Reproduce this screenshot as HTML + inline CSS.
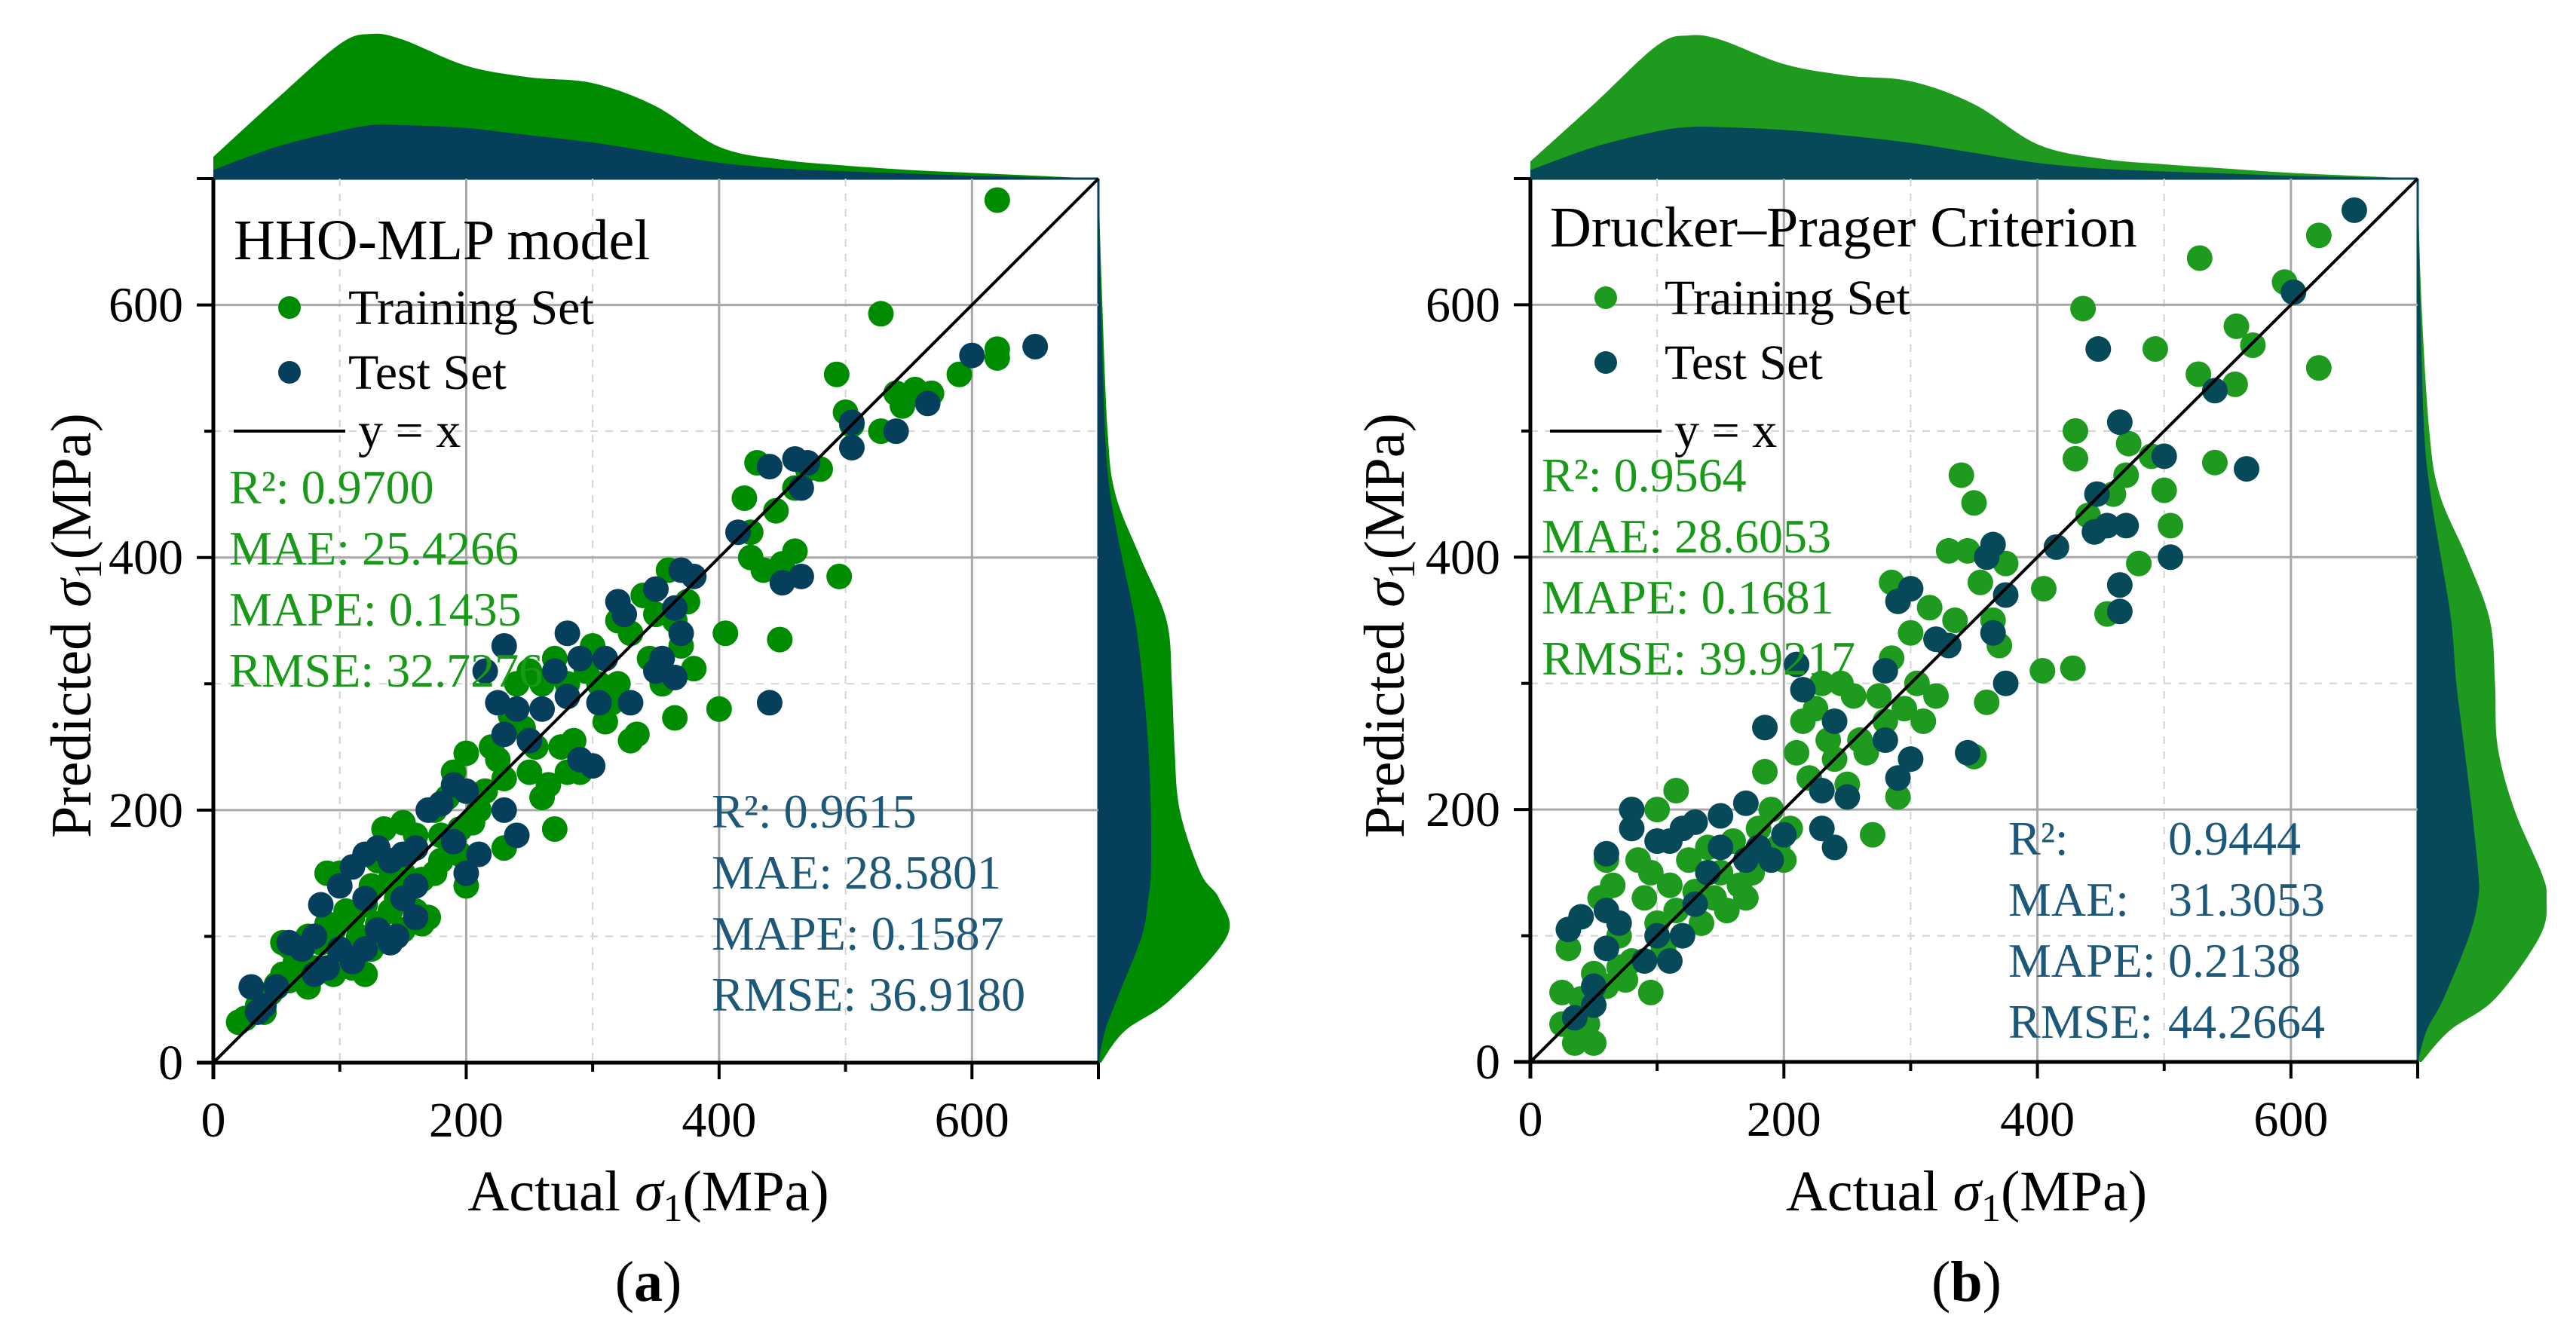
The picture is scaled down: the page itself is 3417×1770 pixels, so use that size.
<!DOCTYPE html>
<html><head><meta charset="utf-8"><style>
html,body{margin:0;padding:0;background:#fff;}
svg{display:block;font-family:"Liberation Serif",serif;}
svg text{font-family:"Liberation Serif",serif;}
</style></head><body>
<svg id="fig" width="3417" height="1770" viewBox="0 0 3417 1770" xmlns="http://www.w3.org/2000/svg" font-family="Liberation Serif, serif"></svg>
<script>
// ---------- DATA ----------
const tickValues = [0, 200, 400, 600];
const minorTickValues = [100, 300, 500];
const margGridX = [0, 50, 100, 125, 150, 200, 250, 300, 350, 400, 450, 500, 550, 600, 650, 700];
const leftTopTotal = [0.15, 0.55, 0.93, 1.0, 0.96, 0.78, 0.7, 0.66, 0.5, 0.22, 0.13, 0.09, 0.06, 0.04, 0.02, 0];
const leftTopTest  = [0.06, 0.22, 0.33, 0.37, 0.37, 0.35, 0.3, 0.25, 0.18, 0.11, 0.07, 0.05, 0.035, 0.02, 0.01, 0];
const rightTopTotal = [0.12, 0.52, 0.93, 1.0, 0.97, 0.8, 0.72, 0.68, 0.52, 0.24, 0.14, 0.1, 0.07, 0.04, 0.02, 0];
const rightTopTest  = [0.06, 0.22, 0.33, 0.36, 0.36, 0.34, 0.3, 0.25, 0.18, 0.11, 0.07, 0.05, 0.035, 0.02, 0.01, 0];
const margGridY = [0, 25, 50, 100, 130, 150, 200, 250, 300, 350, 400, 450, 500, 600, 700];
const leftSideTotal = [0.02, 0.2, 0.55, 0.98, 0.92, 0.78, 0.62, 0.58, 0.56, 0.52, 0.32, 0.13, 0.07, 0.03, 0];
const leftSideTest  = [0.0, 0.05, 0.14, 0.33, 0.38, 0.4, 0.4, 0.38, 0.34, 0.28, 0.18, 0.09, 0.05, 0.02, 0];
const rightSideTotal = [0.03, 0.25, 0.6, 0.95, 1.0, 0.96, 0.75, 0.62, 0.6, 0.56, 0.38, 0.17, 0.09, 0.03, 0];
const rightSideTest  = [0.0, 0.07, 0.2, 0.4, 0.47, 0.47, 0.42, 0.36, 0.3, 0.26, 0.18, 0.1, 0.05, 0.02, 0];

const leftTrain = [[20,32],[25,35],[35,45],[40,50],[45,55],[50,62],[55,70],[55,95],[60,65],[65,80],[70,90],[75,60],[75,100],[80,75],[85,95],[90,150],[90,110],[95,105],[95,70],[100,85],[100,150],[105,120],[110,115],[110,75],[115,100],[120,125],[125,140],[125,90],[130,160],[130,110],[135,185],[140,145],[140,120],[145,130],[150,190],[150,150],[150,105],[155,140],[160,120],[165,145],[165,110],[170,115],[175,200],[175,150],[180,180],[180,160],[185,210],[190,230],[195,185],[195,165],[200,245],[205,190],[210,200],[215,215],[220,250],[225,240],[230,225],[235,275],[240,300],[245,265],[250,310],[250,230],[255,250],[260,300],[265,220],[270,185],[270,320],[275,250],[280,300],[280,230],[285,255],[290,230],[295,310],[300,330],[305,300],[310,270],[315,285],[320,300],[320,350],[330,340],[330,255],[335,260],[340,370],[345,320],[350,355],[355,300],[360,390],[365,350],[370,330],[375,365],[380,312],[365,273],[400,280],[405,340],[420,447],[425,420],[425,400],[430,475],[435,390],[445,437],[448,335],[450,395],[460,405],[460,455],[470,470],[480,470],[493,545],[495,385],[500,515],[505,505],[528,500],[528,593],[540,530],[545,520],[555,533],[568,530],[590,545],[620,565],[620,558],[620,683],[60,92],[40,40],[120,70],[160,180],[200,140],[230,170],[260,210]];
const leftTest = [[650,567],[600,560],[565,522],[540,500],[505,487],[505,507],[470,475],[460,478],[440,472],[465,455],[415,420],[450,380],[465,385],[440,285],[370,390],[380,385],[365,360],[370,340],[350,375],[320,365],[325,355],[330,285],[310,320],[290,320],[280,340],[270,310],[230,330],[215,310],[225,285],[240,280],[230,260],[250,255],[260,280],[280,290],[290,240],[300,235],[305,285],[350,310],[365,305],[355,320],[190,220],[200,215],[170,200],[180,205],[190,175],[200,150],[210,165],[240,180],[230,200],[150,165],[120,165],[130,170],[140,160],[160,170],[110,155],[100,140],[85,125],[120,130],[130,105],[145,100],[160,115],[150,130],[100,90],[80,100],[70,90],[60,95],[90,75],[110,80],[80,70],[50,60],[30,60],[40,45],[35,40],[140,95],[120,90],[160,140]];
const rightTrain = [[25,30],[25,55],[30,90],[35,15],[40,50],[45,30],[50,15],[50,70],[55,130],[60,60],[60,160],[65,140],[70,100],[70,75],[75,65],[80,80],[85,160],[90,130],[95,55],[95,150],[100,200],[100,110],[105,90],[110,140],[115,215],[115,120],[120,100],[125,160],[130,135],[135,110],[140,170],[145,130],[150,150],[155,120],[160,175],[165,140],[170,130],[175,150],[180,185],[185,230],[190,200],[195,170],[200,160],[205,185],[210,245],[215,270],[220,225],[225,280],[230,300],[235,255],[240,240],[245,300],[250,220],[255,290],[260,255],[265,245],[270,180],[275,290],[280,270],[285,320],[290,210],[295,280],[300,340],[305,300],[310,270],[315,360],[320,290],[330,405],[335,350],[340,465],[345,405],[350,443],[350,242],[355,380],[360,285],[365,350],[370,330],[375,395],[285,380],[405,375],[404,310],[428,312],[430,478],[430,500],[436,597],[440,433],[455,355],[460,450],[470,465],[472,490],[480,395],[490,480],[493,565],[500,453],[505,425],[527,545],[528,637],[540,475],[556,537],[557,583],[570,568],[595,618],[622,655],[622,550]];
const rightTest = [[650,675],[602,610],[448,565],[465,507],[540,532],[565,470],[500,480],[447,450],[445,420],[455,425],[470,425],[505,400],[465,378],[465,357],[415,408],[365,410],[360,400],[375,370],[365,340],[300,375],[290,365],[320,335],[330,330],[345,245],[375,300],[280,310],[210,315],[215,295],[240,270],[280,255],[290,225],[300,240],[185,265],[230,215],[240,170],[250,210],[230,185],[80,200],[80,185],[60,165],[100,175],[120,185],[110,175],[130,190],[150,195],[170,205],[150,170],[170,160],[140,150],[130,125],[120,100],[100,100],[110,80],[90,80],[60,120],[60,90],[70,110],[30,105],[40,115],[50,60],[35,35],[50,45],[200,180],[190,160],[180,170]];

const leftTrainStats = ["R²: 0.9700","MAE: 25.4266","MAPE: 0.1435","RMSE: 32.7276"];
const leftTestStats = ["R²: 0.9615","MAE: 28.5801","MAPE: 0.1587","RMSE: 36.9180"];
const rightTrainStats = ["R²: 0.9564","MAE: 28.6053","MAPE: 0.1681","RMSE: 39.9217"];
const rightTestLabels = ["R²:","MAE:","MAPE:","RMSE:"];
const rightTestValues = ["0.9444","31.3053","0.2138","44.2664"];

// ---------- DRAWING ----------
const NS = "http://www.w3.org/2000/svg";
const svg = document.getElementById("fig");
const FONT = "Liberation Serif, serif";
function el(tag, attrs, parent) {
  const e = document.createElementNS(NS, tag);
  for (const k in attrs) e.setAttribute(k, attrs[k]);
  if (tag === "text") e.setAttribute("font-family", FONT);
  (parent || svg).appendChild(e);
  return e;
}
function smoothPath(pts) {
  let d = "M" + pts[0][0] + "," + pts[0][1];
  for (let i = 0; i < pts.length - 1; i++) {
    const p0 = pts[i - 1] || pts[i], p1 = pts[i], p2 = pts[i + 1], p3 = pts[i + 2] || p2;
    const c1 = [p1[0] + (p2[0] - p0[0]) / 6, p1[1] + (p2[1] - p0[1]) / 6];
    const c2 = [p2[0] - (p3[0] - p1[0]) / 6, p2[1] - (p3[1] - p1[1]) / 6];
    d += " C" + c1[0] + "," + c1[1] + " " + c2[0] + "," + c2[1] + " " + p2[0] + "," + p2[1];
  }
  return d;
}

function panel(cfg) {
  const g = el("g", {});
  
  
  const X = v => cfg.x0 + (v / 700) * cfg.w;
  const Y = v => cfg.y0 - (v / 700) * cfg.h;
  const top = cfg.y0 - cfg.h, right = cfg.x0 + cfg.w;

  const topTot = margGridX.map((v, i) => [X(v), top - cfg.topH * cfg.topTotal[i]]);
  const topTst = margGridX.map((v, i) => [X(v), top - cfg.topH * cfg.topTest[i]]);
  const mt = el("path", {d: smoothPath(topTot) + " L" + right + "," + top + " L" + cfg.x0 + "," + top + " Z", fill: cfg.green}, g);
  
  
  const mt2 = el("path", {d: smoothPath(topTst) + " L" + right + "," + top + " L" + cfg.x0 + "," + top + " Z", fill: cfg.dark}, g);
  
  
  const sTot = margGridY.map((v, i) => [right + cfg.sideW * cfg.sideTotal[i], Y(v)]);
  const sTst = margGridY.map((v, i) => [right + cfg.sideW * cfg.sideTest[i], Y(v)]);
  const ms = el("path", {d: smoothPath(sTot) + " L" + right + "," + top + " L" + right + "," + cfg.y0 + " Z", fill: cfg.green}, g);
  
  
  const ms2 = el("path", {d: smoothPath(sTst) + " L" + right + "," + top + " L" + right + "," + cfg.y0 + " Z", fill: cfg.dark}, g);
  
  
  el("line", {x1: cfg.x0, y1: top, x2: right, y2: top, stroke: cfg.dark, "stroke-width": 3}, g);
  el("line", {x1: right, y1: top, x2: right, y2: cfg.y0, stroke: cfg.dark, "stroke-width": 3}, g);

  minorTickValues.forEach(v => {
    el("line", {x1: X(v), y1: top, x2: X(v), y2: cfg.y0, stroke: "#d4d4d4", "stroke-width": 2, "stroke-dasharray": "10,10"}, g);
    el("line", {x1: cfg.x0, y1: Y(v), x2: right, y2: Y(v), stroke: "#d4d4d4", "stroke-width": 2, "stroke-dasharray": "10,10"}, g);
  });
  tickValues.slice(1).forEach(v => {
    el("line", {x1: X(v), y1: top, x2: X(v), y2: cfg.y0, stroke: "#a8a8a8", "stroke-width": 3}, g);
    el("line", {x1: cfg.x0, y1: Y(v), x2: right, y2: Y(v), stroke: "#a8a8a8", "stroke-width": 3}, g);
  });

  cfg.train.forEach(p => {
    const c = el("circle", {cx: X(p[0]), cy: Y(p[1]), r: 17, fill: cfg.green}, g);
    
    
  });
  cfg.test.forEach(p => {
    const c = el("circle", {cx: X(p[0]), cy: Y(p[1]), r: 17, fill: cfg.dark}, g);
    
    
  });
  const idl = el("line", {x1: X(0), y1: Y(0), x2: X(700), y2: Y(700), stroke: "#000", "stroke-width": 4}, g);
  
  

  el("line", {x1: cfg.x0, y1: top, x2: cfg.x0, y2: cfg.y0 + 22, stroke: "#000", "stroke-width": 5}, g);
  el("line", {x1: cfg.x0 - 22, y1: cfg.y0, x2: right, y2: cfg.y0, stroke: "#000", "stroke-width": 5}, g);
  tickValues.concat([700]).forEach(v => {
    el("line", {x1: X(v), y1: cfg.y0, x2: X(v), y2: cfg.y0 + 22, stroke: "#000", "stroke-width": 4}, g);
    el("line", {x1: cfg.x0 - 22, y1: Y(v), x2: cfg.x0, y2: Y(v), stroke: "#000", "stroke-width": 4}, g);
  });
  minorTickValues.forEach(v => {
    el("line", {x1: X(v), y1: cfg.y0, x2: X(v), y2: cfg.y0 + 12, stroke: "#000", "stroke-width": 4}, g);
    el("line", {x1: cfg.x0 - 12, y1: Y(v), x2: cfg.x0, y2: Y(v), stroke: "#000", "stroke-width": 4}, g);
  });
  tickValues.forEach(v => {
    const t = el("text", {x: X(v), y: cfg.y0 + 98, "font-size": 66, "text-anchor": "middle"}, g);
    t.textContent = v;
    
    
    const t2 = el("text", {x: cfg.x0 - 40, y: Y(v) + 22, "font-size": 66, "text-anchor": "end"}, g);
    t2.textContent = v;
    
    
  });
  const xt = el("text", {x: cfg.x0 + cfg.w / 2 - 10, y: 1606, "font-size": 76, "text-anchor": "middle"}, g);
  xt.innerHTML = 'Actual <tspan font-style="italic">σ</tspan><tspan font-size="52" dy="14">1</tspan><tspan dy="-14">(MPa)</tspan>';
  
  
  const yt = el("text", {x: 0, y: 0, "font-size": 76, "text-anchor": "middle", transform: "translate(" + cfg.ytx + ",830) rotate(-90)"}, g);
  yt.innerHTML = 'Predicted <tspan font-style="italic">σ</tspan><tspan font-size="52" dy="14">1</tspan><tspan dy="-14">(MPa)</tspan>';
  
  
  const cap = el("text", {x: cfg.x0 + cfg.w / 2 - 10, y: 1726, "font-size": 76, "text-anchor": "middle"}, g);
  cap.innerHTML = '(<tspan font-weight="bold">' + cfg.caption + '</tspan>)';
  
  

  const lt = el("text", {x: cfg.x0 + cfg.titleDx, y: cfg.titleY, "font-size": 76}, g);
  lt.textContent = cfg.title;
  
  
  const lm1 = el("circle", {cx: cfg.x0 + cfg.legDx, cy: cfg.legY, r: 15, fill: cfg.green}, g);
  
  
  const l1 = el("text", {x: cfg.x0 + cfg.legDx + 78, y: cfg.legY + 22, "font-size": 66}, g);
  l1.textContent = "Training Set";
  
  
  const lm2 = el("circle", {cx: cfg.x0 + cfg.legDx, cy: cfg.legY + 86, r: 15, fill: cfg.dark}, g);
  
  
  const l2 = el("text", {x: cfg.x0 + cfg.legDx + 78, y: cfg.legY + 108, "font-size": 66}, g);
  l2.textContent = "Test Set";
  
  
  el("line", {x1: cfg.x0 + cfg.titleDx, y1: 572, x2: cfg.x0 + cfg.titleDx + 148, y2: 572, stroke: "#000", "stroke-width": 4}, g);
  const l3 = el("text", {x: cfg.x0 + cfg.titleDx + 165, y: 593, "font-size": 66}, g);
  l3.textContent = "y = x";
  
  

  cfg.trainStats.forEach((s, i) => {
    const t = el("text", {x: cfg.x0 + cfg.statDx, y: cfg.trainStatY + i * 81, "font-size": 64, fill: cfg.statGreen}, g);
    t.textContent = s;
    
    
  });
  cfg.testStats.forEach((s, i) => {
    const t = el("text", {x: cfg.x0 + cfg.testStatDx, y: cfg.testStatY + i * 81, "font-size": 64, fill: cfg.statBlue}, g);
    t.textContent = s;
    
    
  });
  (cfg.testValues || []).forEach((s, i) => {
    const t = el("text", {x: cfg.x0 + cfg.testValDx, y: cfg.testStatY + i * 81, "font-size": 64, fill: cfg.statBlue}, g);
    t.textContent = s;
    
    
  });
}

panel({name: "panel-a", x0: 283, y0: 1410, w: 1174, h: 1173, green: "#008c00", dark: "#063f5c",
  topH: 192, topTotal: leftTopTotal, topTest: leftTopTest, sideW: 174, sideTotal: leftSideTotal, sideTest: leftSideTest,
  train: leftTrain, test: leftTest, ytx: 120, caption: "a", title: "HHO-MLP model", titleDx: 27, titleY: 344,
  legDx: 101, legY: 408, trainStats: leftTrainStats, statDx: 21, trainStatY: 668, statGreen: "#189a18",
  testStats: leftTestStats, testStatDx: 661, testStatY: 1098, statBlue: "#1d5878"});
panel({name: "panel-b", x0: 2030, y0: 1409, w: 1177, h: 1172, green: "#1e9a1e", dark: "#064a5a",
  topH: 190, topTotal: rightTopTotal, topTest: rightTopTest, sideW: 171, sideTotal: rightSideTotal, sideTest: rightSideTest,
  train: rightTrain, test: rightTest, ytx: 1862, caption: "b", title: "Drucker–Prager Criterion", titleDx: 26, titleY: 327,
  legDx: 100, legY: 395, trainStats: rightTrainStats, statDx: 15, trainStatY: 652, statGreen: "#189a18",
  testStats: rightTestLabels, testStatDx: 634, testStatY: 1134, statBlue: "#1d5878",
  testValues: rightTestValues, testValDx: 846});
</script>
</body></html>
